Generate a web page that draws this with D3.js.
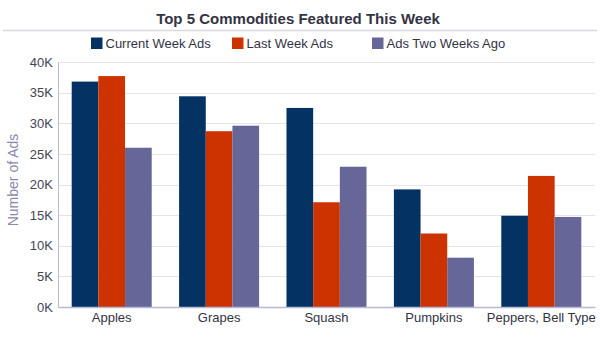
<!DOCTYPE html>
<html><head><meta charset="utf-8">
<script src="https://cdn.jsdelivr.net/npm/d3@7"></script>
<style>body{margin:0;background:#fff;}svg{display:block;font-family:"Liberation Sans",Arial,sans-serif;}</style>
</head><body><svg id="c" width="600" height="351"></svg>
<script>
const categories = ["Apples","Grapes","Squash","Pumpkins","Peppers, Bell Type"];
const seriesNames = ["Current Week Ads","Last Week Ads","Ads Two Weeks Ago"];
const currentWeek = [36800, 34400, 32500, 19200, 14900];
const lastWeek = [37700, 28700, 17100, 12000, 21400];
const twoWeeksAgo = [26000, 29600, 22900, 8050, 14700];
const yTicks = [0,5000,10000,15000,20000,25000,30000,35000,40000];
const colors = ["#043263","#cc3300","#666699"];

const series = [currentWeek, lastWeek, twoWeeksAgo];
const svg = d3.select("#c");
const m = {l:58, r:595, t:62, b:307};
const x = d3.scaleBand().domain(categories).range([m.l, m.r]).paddingInner(0.255).paddingOuter(0.1275);
const xs = d3.scaleBand().domain(d3.range(3)).range([0, x.bandwidth()]);
const y = d3.scaleLinear().domain([0,40000]).range([m.b, m.t]);

// title
svg.append("text").attr("x",298).attr("y",23.5).attr("text-anchor","middle")
  .attr("font-size",15).attr("font-weight","bold").attr("fill","#333344").text("Top 5 Commodities Featured This Week");
svg.append("line").attr("x1",3).attr("x2",597).attr("y1",30.5).attr("y2",30.5).attr("stroke","#d8d8e0").attr("stroke-width",1.5);

// legend
const legX = [91, 232, 372];
seriesNames.forEach((n,i)=>{
  svg.append("rect").attr("x",legX[i]).attr("y",37.5).attr("width",11.5).attr("height",11.5).attr("fill",colors[i]);
  svg.append("text").attr("x",legX[i]+14.5).attr("y",48).attr("font-size",13).attr("fill","#333344").text(n);
});

// grid
svg.append("g").selectAll("line").data(yTicks.filter(d=>d>0)).join("line")
  .attr("x1",m.l).attr("x2",m.r).attr("y1",d=>Math.round(y(d))+0.5).attr("y2",d=>Math.round(y(d))+0.5)
  .attr("stroke","#e4e4ec").attr("stroke-width",1);

// y axis
const ya = svg.append("g").attr("transform",`translate(${m.l},0)`)
  .call(d3.axisLeft(y).tickValues(yTicks).tickFormat(d=>(d/1000)+"K").tickSize(0).tickPadding(5));
ya.select(".domain").attr("stroke","#b8b8d4");
ya.selectAll("text").attr("font-size",13).attr("fill","#444455").attr("font-family","Liberation Sans, Arial, sans-serif");

svg.append("text").attr("transform","translate(18,180) rotate(-90)").attr("text-anchor","middle")
  .attr("font-size",14).attr("fill","#8888aa").text("Number of Ads");

// bars
categories.forEach((c,ci)=>{
  series.forEach((s,si)=>{
    svg.append("rect").attr("x",x(c)+xs(si)).attr("width",xs.bandwidth())
      .attr("y",y(s[ci])).attr("height",y(0)-y(s[ci])).attr("fill",colors[si]);
  });
});

// x axis
const xa = svg.append("g").attr("transform",`translate(0,${m.b})`)
  .call(d3.axisBottom(x).tickSize(0).tickPadding(6));
xa.select(".domain").attr("stroke","#b8b8d4").attr("stroke-width",1.5);
xa.selectAll("text").attr("font-size",13).attr("fill","#333344").attr("font-family","Liberation Sans, Arial, sans-serif");
</script></body></html>
